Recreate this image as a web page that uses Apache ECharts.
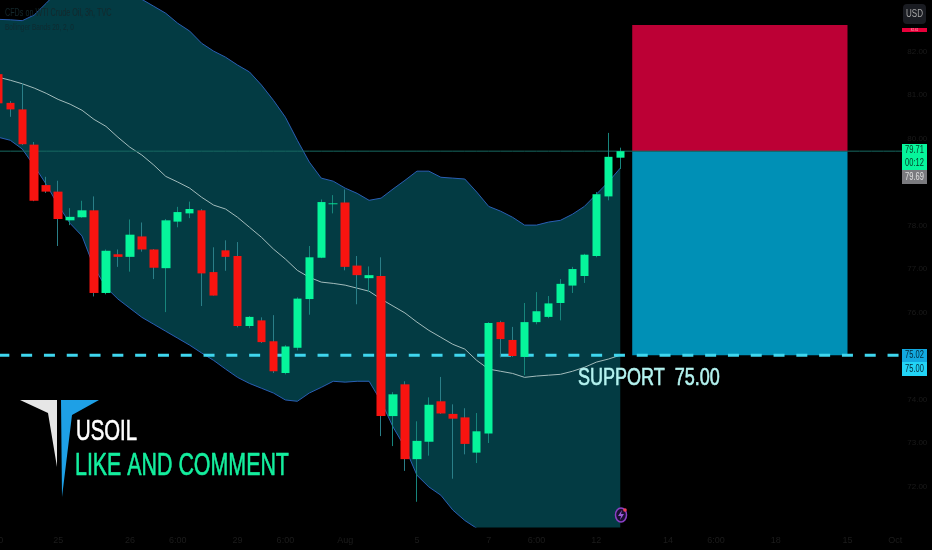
<!DOCTYPE html>
<html>
<head>
<meta charset="utf-8">
<style>html,body{margin:0;padding:0;background:#000}#c{width:932px;height:550px}</style>
<script src="https://cdn.jsdelivr.net/npm/echarts@6/dist/echarts.min.js"></script>
</head>
<body>
<div id="c"></div>
<script>
// price data (open, close, low, high per candle)
const opens  = [81.48,80.82,80.67,79.86,78.93,78.78,78.12,78.19,78.35,76.45,77.34,77.28,77.75,77.45,77.02,78.09,78.28,78.35,76.93,77.43,77.30,75.69,75.82,75.34,74.61,75.19,76.31,77.26,78.49,78.53,77.08,76.79,76.84,73.62,74.35,72.63,73.03,73.96,73.67,73.59,72.78,73.22,75.78,75.37,74.98,75.78,75.90,76.22,76.62,76.84,77.30,78.67,79.56];
const closes = [80.81,80.67,79.87,78.57,78.78,78.15,78.20,78.35,76.45,77.42,77.28,77.79,77.45,77.03,78.12,78.31,78.38,76.90,76.39,77.28,75.69,75.90,75.32,74.65,75.22,76.32,77.27,78.54,78.51,77.05,76.86,76.86,73.62,74.12,72.63,73.05,73.88,73.68,73.56,72.98,73.27,75.76,75.39,75.00,75.78,76.03,76.21,76.66,77.00,77.33,78.72,79.58,79.71];
const lows   = [80.79,80.50,79.85,78.56,78.75,77.53,78.01,78.18,76.37,76.42,77.05,76.94,77.40,76.77,76.01,77.96,78.17,76.15,76.39,76.96,75.66,75.64,75.30,74.61,74.58,75.13,75.95,77.25,78.28,76.97,76.19,76.47,73.16,72.93,72.36,71.65,72.71,73.67,72.18,72.74,72.54,73.00,74.97,74.98,74.56,75.73,75.87,75.82,76.45,76.68,77.27,78.58,79.30];
const highs  = [81.53,80.86,81.27,79.92,79.12,79.03,78.40,78.57,78.67,77.45,77.45,78.14,78.07,77.46,78.15,78.43,78.55,78.38,77.50,77.66,77.62,75.92,75.89,75.94,75.25,76.35,77.53,78.60,78.70,78.83,77.30,77.06,77.27,74.17,74.42,73.50,74.05,74.52,73.89,73.80,73.69,75.78,75.81,75.67,76.22,76.47,76.38,76.77,77.05,77.35,78.77,80.13,79.79];

// Bollinger Bands
const bbUpper = [82.74,82.73,82.71,82.84,83.11,83.39,83.69,83.87,83.94,83.87,83.73,83.53,83.20,83.04,82.88,82.65,82.47,82.19,82.01,81.87,81.69,81.53,81.23,80.88,80.49,79.96,79.46,79.09,79.02,78.86,78.74,78.58,78.63,78.84,79.04,79.25,79.25,79.11,79.09,79.07,78.77,78.44,78.33,78.19,78.01,78.01,78.08,78.12,78.26,78.44,78.72,79.00,79.32];
const bbLower = [80.03,79.96,79.76,79.37,78.95,78.47,78.05,77.76,77.04,76.58,76.31,76.10,75.89,75.73,75.57,75.41,75.25,75.07,74.90,74.70,74.51,74.37,74.26,74.15,73.99,73.96,74.15,74.28,74.42,74.40,74.42,74.42,73.96,73.37,72.90,72.26,71.99,71.80,71.46,71.22,71.04,70.88,70.74,70.60,70.49,70.40,70.31,70.26,70.21,70.17,70.12,70.08,70.03];
const bbBasis = [81.41,81.34,81.26,81.16,81.04,80.90,80.79,80.65,80.44,80.28,80.03,79.80,79.62,79.39,79.13,79.00,78.86,78.65,78.47,78.38,78.19,77.96,77.73,77.46,77.23,76.97,76.81,76.70,76.67,76.63,76.56,76.49,76.31,76.15,75.99,75.78,75.59,75.43,75.27,75.16,74.90,74.70,74.65,74.60,74.51,74.54,74.56,74.58,74.65,74.74,74.86,74.93,75.02];

// levels and trade box
const lastPrice = 79.71;
const supportPrice = 75.02;
const stopPrice = 82.61;
const boxStartIndex = 53;
const boxEndIndex = 71;

// axes
const candleSlots = 77;
const yMin = 71.07, yMax = 83.185;
const yTicks = [72,73,74,75,76,77,78,79,80,81,82];
const xTickIndex = [0,5,11,15,20,24,29,35,41,45,50,56,60,65,71,75];
const xTickText  = ['30','25','26','6:00','29','6:00','Aug','5','7','6:00','12','14','6:00','18','15','Oct'];

// texts
const headerTexts = ['CFDs on WTI Crude Oil, 3h, TVC','Bollinger Bands 20, 2, 0'];
const supportText = 'SUPPORT  75.00';
const symbolText = 'USOIL';
const ctaText = 'LIKE AND COMMENT';
const tagTexts = {last:'79.71', countdown:'00:12', prev:'79.69', support:'75.02', round:'75.00', stop:'82.61', currency:'USD'};

const SANS = '"Liberation Sans",sans-serif';
const categories = Array.from({length:candleSlots},(_,i)=>{
  const k = xTickIndex.indexOf(i);
  return k>=0 ? xTickText[k] : '';
});
const wickData = opens.map((o,i)=>[o,closes[i],lows[i],highs[i]]);
const bodyData = opens.map((o,i)=>[o,closes[i],Math.min(o,closes[i]),Math.max(o,closes[i])]);
const bbWidth = bbUpper.map((u,i)=>u-bbLower[i]);
const flat = v => Array.from({length:candleSlots},()=>v);

const BAND_LINE='#2a5fb4', FILL='#033b43', GREEN='#06f59b', RED='#f81410';

function tag(x,y,w,h,fill,text,color,size){
  return [
    {type:'rect',shape:{x,y,width:w,height:h},style:{fill},z:50},
    {type:'text',x:x+w/2,y:y+h/2,z:51,scaleX:0.75,style:{text,fill:color,font:(size||10)+'px '+SANS,align:'center',verticalAlign:'middle'}}
  ];
}
function bigText(x,y,text,fill,size,sx){
  return {type:'text',x,y,z:40,scaleX:sx,style:{text,fill,stroke:fill,lineWidth:0.6,font:size+'px '+SANS,verticalAlign:'middle'}};
}

const graphic = [
  {type:'text',x:5,y:13,z:40,scaleX:0.72,style:{text:headerTexts[0],fill:'#14282c',font:'10px '+SANS,verticalAlign:'middle'}},
  {type:'text',x:5,y:28,z:40,scaleX:0.72,style:{text:headerTexts[1],fill:'#0f2a30',font:'9px '+SANS,verticalAlign:'middle'}},
  bigText(578,378,supportText,'#b4f3f0',24,0.75),
  bigText(76,432,symbolText,'#ffffff',29,0.70),
  bigText(75,466,ctaText,'#14ee9e',31,0.69),
  {type:'polygon',z:40,shape:{points:[[20,400],[57,400],[57,467],[48,413]]},style:{fill:'#e6e6e6'}},
  {type:'polygon',z:40,shape:{points:[[61,400],[99,400],[72,415],[62,497]]},style:{fill:'#1ea0e6'}},
  {type:'ellipse',z:40,shape:{cx:621,cy:515,rx:5.5,ry:7},style:{fill:'#1a1030',stroke:'#8a3fc4',lineWidth:1.5}},
  {type:'polygon',z:41,shape:{points:[[622,510],[618,516],[621,516],[620,520],[624,514],[621,514]]},style:{fill:'#9a5ad8'}},
  {type:'circle',z:42,shape:{cx:625,cy:510,r:1.8},style:{fill:'#f0405a'}},
  {type:'rect',z:50,shape:{x:903,y:4,width:23,height:20,r:4},style:{fill:'#1a1c22'}},
  {type:'text',x:914.5,y:14,z:51,scaleX:0.8,style:{text:tagTexts.currency,fill:'#a8a8a8',font:'10px '+SANS,align:'center',verticalAlign:'middle'}},
  ...tag(902,28,25,4,'#e8003a',tagTexts.stop,'#ffb0c0',4),
  ...tag(902,144,25,13,GREEN,tagTexts.last,'#063a28'),
  ...tag(902,157,25,13,GREEN,tagTexts.countdown,'#063a28'),
  ...tag(902,170,25,14,'#7a7a7e',tagTexts.prev,'#e0e0e0'),
  ...tag(902,349,25,13,'#12a9e0',tagTexts.support,'#04283a'),
  ...tag(902,362,25,14,'#22d4f6',tagTexts.round,'#04283a')
];

const chart = echarts.init(document.getElementById('c'),null,{renderer:'canvas'});
chart.setOption({
  animation:false,
  backgroundColor:'#000000',
  tooltip:{show:false},
  legend:{show:false},
  grid:{left:-7.64,top:0,width:920.92,height:527,containLabel:false,outerBoundsMode:'none'},
  xAxis:{
    type:'category',data:categories,boundaryGap:true,
    axisLine:{show:false},axisTick:{show:false},splitLine:{show:false},
    axisLabel:{show:true,interval:0,color:'#1c1c1c',fontSize:9,fontFamily:SANS,margin:9,hideOverlap:false}
  },
  yAxis:{
    type:'value',position:'right',min:yMin,max:yMax,scale:true,
    axisLine:{show:false},axisTick:{show:false},splitLine:{show:false},
    axisLabel:{show:true,customValues:yTicks,color:'#1a1a1a',fontSize:8,fontFamily:SANS,margin:-6,
      formatter:v=>v.toFixed(2)}
  },
  graphic:{elements:graphic},
  series:[
    {name:'Lower',type:'line',stack:'bb',data:bbLower,symbol:'none',z:1,
      lineStyle:{color:BAND_LINE,width:1}},
    {name:'Upper',type:'line',stack:'bb',data:bbWidth,symbol:'none',z:1,
      lineStyle:{color:BAND_LINE,width:1},areaStyle:{color:FILL,opacity:1}},
    {name:'Box',type:'line',data:[],symbol:'none',z:2,
      markArea:{silent:true,z:2,data:[
        [{xAxis:boxStartIndex,yAxis:stopPrice,itemStyle:{color:'#bc0035',opacity:1}},{xAxis:boxEndIndex,yAxis:lastPrice}],
        [{xAxis:boxStartIndex,yAxis:lastPrice,itemStyle:{color:'#0090b6',opacity:1}},{xAxis:boxEndIndex,yAxis:supportPrice}]
      ]}},
    {name:'Basis',type:'line',data:bbBasis,symbol:'none',z:3,
      lineStyle:{color:'#a3bcbc',width:1}},
    {name:'Last',type:'line',data:flat(lastPrice),symbol:'none',z:3,
      lineStyle:{color:'#176a62',width:1}},
    {name:'Support',type:'line',data:flat(supportPrice),symbol:'none',z:4,
      lineStyle:{color:'#3fd6ee',width:3,type:[11,11.8]}},
    {name:'Wicks',type:'candlestick',data:wickData,z:5,barWidth:1,
      itemStyle:{color:'#17857c',color0:'#2a7f88',borderColor:'#17857c',borderColor0:'#2a7f88',borderWidth:1}},
    {name:'Bodies',type:'candlestick',data:bodyData,z:6,barWidth:9,
      itemStyle:{color:GREEN,color0:RED,borderColor:GREEN,borderColor0:RED,borderWidth:0}}
  ]
});
</script>
</body>
</html>
